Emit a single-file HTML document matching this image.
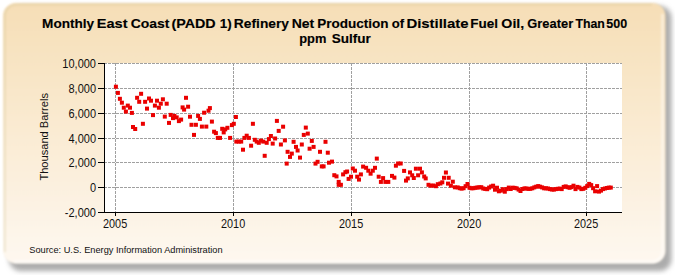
<!DOCTYPE html>
<html><head><meta charset="utf-8"><style>
html,body{margin:0;padding:0;background:#fff;}
svg{display:block;}
text{font-family:"Liberation Sans",sans-serif;}
</style></head><body>
<svg width="675" height="275" viewBox="0 0 675 275">
<defs>
<linearGradient id="bg" x1="0" y1="0" x2="0" y2="1">
<stop offset="0" stop-color="#F6DEB6"/>
<stop offset="1" stop-color="#FEF8F0"/>
</linearGradient>
<filter id="sh" x="-10%" y="-10%" width="120%" height="130%">
<feGaussianBlur stdDeviation="2.6"/>
</filter>
<filter id="soft" x="-5%" y="-5%" width="110%" height="110%">
<feGaussianBlur stdDeviation="0.9"/>
</filter>
</defs>
<rect x="9" y="6" width="662.5" height="265" rx="12" ry="12" fill="#acacac" filter="url(#sh)"/>
<rect x="3" y="3" width="662.5" height="260.5" rx="13" ry="13" fill="url(#bg)" filter="url(#soft)"/>
<path d="M4.8 252 V16 A11.2 11.2 0 0 1 16 4.8 H652" fill="none" stroke="#c9bd8c" stroke-opacity="0.35" stroke-width="1.6" filter="url(#soft)"/>
<path d="M662.5 14 V251 A10.5 10.5 0 0 1 652 261.5 H14" fill="none" stroke="#fff" stroke-opacity="0.6" stroke-width="2" filter="url(#soft)"/>
<rect x="105" y="63" width="517" height="149" fill="#fff"/>
<g stroke="#a0a0a0" stroke-width="1" stroke-dasharray="3,1" fill="none">
<line x1="104" y1="63.5" x2="622" y2="63.5"/><line x1="104" y1="88.5" x2="622" y2="88.5"/><line x1="104" y1="113.5" x2="622" y2="113.5"/><line x1="104" y1="138.5" x2="622" y2="138.5"/><line x1="104" y1="162.5" x2="622" y2="162.5"/><line x1="104" y1="187.5" x2="622" y2="187.5"/><line x1="115.5" y1="63" x2="115.5" y2="212"/><line x1="233.5" y1="63" x2="233.5" y2="212"/><line x1="351.5" y1="63" x2="351.5" y2="212"/><line x1="469.5" y1="63" x2="469.5" y2="212"/><line x1="586.5" y1="63" x2="586.5" y2="212"/>
</g>
<g fill="#ea0000">
<rect x="113.9" y="84.7" width="4" height="4"/><rect x="115.9" y="90.9" width="4" height="4"/><rect x="117.9" y="96.8" width="4" height="4"/><rect x="119.9" y="100.7" width="4" height="4"/><rect x="121.8" y="105.7" width="4" height="4"/><rect x="123.9" y="109.6" width="4" height="4"/><rect x="125.8" y="103.6" width="4" height="4"/><rect x="128.0" y="105.7" width="4" height="4"/><rect x="129.9" y="110.9" width="4" height="4"/><rect x="131.0" y="125.0" width="4" height="4"/><rect x="133.2" y="127.0" width="4" height="4"/><rect x="135.1" y="95.8" width="4" height="4"/><rect x="137.2" y="99.8" width="4" height="4"/><rect x="139.1" y="91.8" width="4" height="4"/><rect x="140.9" y="121.8" width="4" height="4"/><rect x="143.1" y="99.8" width="4" height="4"/><rect x="145.0" y="106.6" width="4" height="4"/><rect x="147.0" y="96.5" width="4" height="4"/><rect x="149.0" y="98.7" width="4" height="4"/><rect x="151.0" y="113.1" width="4" height="4"/><rect x="152.9" y="103.6" width="4" height="4"/><rect x="155.0" y="98.7" width="4" height="4"/><rect x="156.9" y="105.7" width="4" height="4"/><rect x="158.8" y="101.7" width="4" height="4"/><rect x="160.9" y="97.3" width="4" height="4"/><rect x="162.8" y="114.6" width="4" height="4"/><rect x="164.7" y="101.7" width="4" height="4"/><rect x="167.0" y="120.9" width="4" height="4"/><rect x="168.7" y="112.9" width="4" height="4"/><rect x="171.0" y="116.1" width="4" height="4"/><rect x="172.4" y="113.9" width="4" height="4"/><rect x="174.7" y="115.4" width="4" height="4"/><rect x="176.9" y="119.1" width="4" height="4"/><rect x="179.1" y="117.6" width="4" height="4"/><rect x="180.6" y="105.4" width="4" height="4"/><rect x="182.1" y="107.6" width="4" height="4"/><rect x="184.0" y="95.8" width="4" height="4"/><rect x="186.1" y="104.7" width="4" height="4"/><rect x="188.0" y="114.7" width="4" height="4"/><rect x="189.5" y="122.8" width="4" height="4"/><rect x="192.0" y="132.9" width="4" height="4"/><rect x="193.9" y="122.8" width="4" height="4"/><rect x="196.1" y="113.9" width="4" height="4"/><rect x="197.9" y="116.9" width="4" height="4"/><rect x="199.9" y="124.6" width="4" height="4"/><rect x="202.1" y="110.7" width="4" height="4"/><rect x="204.3" y="124.6" width="4" height="4"/><rect x="206.5" y="108.7" width="4" height="4"/><rect x="207.9" y="106.1" width="4" height="4"/><rect x="209.9" y="119.6" width="4" height="4"/><rect x="212.1" y="129.7" width="4" height="4"/><rect x="213.9" y="131.1" width="4" height="4"/><rect x="215.8" y="135.9" width="4" height="4"/><rect x="218.0" y="135.9" width="4" height="4"/><rect x="220.2" y="126.8" width="4" height="4"/><rect x="221.7" y="130.4" width="4" height="4"/><rect x="223.2" y="127.4" width="4" height="4"/><rect x="225.4" y="125.8" width="4" height="4"/><rect x="228.1" y="135.9" width="4" height="4"/><rect x="229.9" y="123.1" width="4" height="4"/><rect x="231.8" y="121.8" width="4" height="4"/><rect x="233.9" y="115.0" width="4" height="4"/><rect x="234.3" y="139.6" width="4" height="4"/><rect x="236.8" y="139.6" width="4" height="4"/><rect x="239.2" y="139.6" width="4" height="4"/><rect x="241.0" y="147.7" width="4" height="4"/><rect x="242.4" y="135.9" width="4" height="4"/><rect x="244.7" y="133.7" width="4" height="4"/><rect x="246.9" y="135.9" width="4" height="4"/><rect x="249.1" y="143.7" width="4" height="4"/><rect x="250.9" y="121.8" width="4" height="4"/><rect x="252.8" y="137.8" width="4" height="4"/><rect x="254.7" y="139.6" width="4" height="4"/><rect x="256.8" y="140.8" width="4" height="4"/><rect x="259.0" y="138.6" width="4" height="4"/><rect x="261.3" y="139.6" width="4" height="4"/><rect x="262.7" y="153.8" width="4" height="4"/><rect x="264.7" y="140.8" width="4" height="4"/><rect x="266.9" y="137.1" width="4" height="4"/><rect x="268.9" y="134.0" width="4" height="4"/><rect x="270.7" y="141.6" width="4" height="4"/><rect x="273.1" y="136.5" width="4" height="4"/><rect x="274.9" y="118.9" width="4" height="4"/><rect x="276.7" y="128.9" width="4" height="4"/><rect x="278.9" y="142.5" width="4" height="4"/><rect x="281.1" y="124.7" width="4" height="4"/><rect x="282.9" y="138.4" width="4" height="4"/><rect x="284.7" y="161.6" width="4" height="4"/><rect x="285.6" y="149.8" width="4" height="4"/><rect x="288.0" y="154.9" width="4" height="4"/><rect x="289.8" y="151.6" width="4" height="4"/><rect x="291.6" y="139.8" width="4" height="4"/><rect x="294.0" y="144.9" width="4" height="4"/><rect x="295.6" y="148.5" width="4" height="4"/><rect x="298.0" y="155.6" width="4" height="4"/><rect x="299.8" y="142.5" width="4" height="4"/><rect x="301.8" y="132.9" width="4" height="4"/><rect x="303.8" y="125.6" width="4" height="4"/><rect x="305.8" y="131.6" width="4" height="4"/><rect x="307.6" y="146.7" width="4" height="4"/><rect x="309.8" y="138.9" width="4" height="4"/><rect x="311.6" y="144.9" width="4" height="4"/><rect x="313.5" y="161.6" width="4" height="4"/><rect x="315.6" y="159.8" width="4" height="4"/><rect x="318.0" y="149.8" width="4" height="4"/><rect x="319.8" y="164.4" width="4" height="4"/><rect x="321.6" y="164.4" width="4" height="4"/><rect x="323.5" y="139.8" width="4" height="4"/><rect x="325.8" y="150.7" width="4" height="4"/><rect x="327.0" y="160.7" width="4" height="4"/><rect x="330.0" y="159.6" width="4" height="4"/><rect x="332.3" y="173.2" width="4" height="4"/><rect x="334.5" y="174.4" width="4" height="4"/><rect x="336.7" y="179.9" width="4" height="4"/><rect x="336.7" y="182.8" width="4" height="4"/><rect x="338.9" y="182.8" width="4" height="4"/><rect x="341.1" y="172.4" width="4" height="4"/><rect x="343.4" y="170.2" width="4" height="4"/><rect x="345.1" y="169.5" width="4" height="4"/><rect x="346.6" y="176.9" width="4" height="4"/><rect x="349.0" y="174.7" width="4" height="4"/><rect x="350.8" y="166.5" width="4" height="4"/><rect x="353.0" y="168.7" width="4" height="4"/><rect x="355.2" y="174.7" width="4" height="4"/><rect x="357.0" y="177.6" width="4" height="4"/><rect x="358.9" y="172.4" width="4" height="4"/><rect x="361.1" y="164.6" width="4" height="4"/><rect x="364.1" y="165.8" width="4" height="4"/><rect x="366.3" y="168.7" width="4" height="4"/><rect x="368.6" y="171.7" width="4" height="4"/><rect x="370.8" y="168.7" width="4" height="4"/><rect x="373.0" y="165.8" width="4" height="4"/><rect x="374.8" y="156.6" width="4" height="4"/><rect x="376.7" y="174.7" width="4" height="4"/><rect x="378.9" y="179.9" width="4" height="4"/><rect x="381.1" y="176.1" width="4" height="4"/><rect x="383.4" y="179.9" width="4" height="4"/><rect x="386.3" y="179.9" width="4" height="4"/><rect x="390.0" y="173.9" width="4" height="4"/><rect x="392.4" y="175.6" width="4" height="4"/><rect x="393.9" y="163.7" width="4" height="4"/><rect x="396.1" y="161.5" width="4" height="4"/><rect x="398.7" y="161.5" width="4" height="4"/><rect x="402.1" y="168.9" width="4" height="4"/><rect x="404.0" y="178.6" width="4" height="4"/><rect x="405.8" y="176.4" width="4" height="4"/><rect x="408.0" y="170.4" width="4" height="4"/><rect x="410.2" y="173.3" width="4" height="4"/><rect x="411.8" y="176.0" width="4" height="4"/><rect x="413.9" y="166.7" width="4" height="4"/><rect x="416.1" y="173.3" width="4" height="4"/><rect x="418.0" y="166.7" width="4" height="4"/><rect x="419.9" y="170.4" width="4" height="4"/><rect x="422.2" y="174.5" width="4" height="4"/><rect x="423.7" y="176.4" width="4" height="4"/><rect x="426.5" y="182.8" width="4" height="4"/><rect x="428.7" y="183.7" width="4" height="4"/><rect x="431.3" y="183.5" width="4" height="4"/><rect x="433.9" y="184.2" width="4" height="4"/><rect x="435.8" y="182.2" width="4" height="4"/><rect x="438.4" y="181.5" width="4" height="4"/><rect x="440.3" y="180.3" width="4" height="4"/><rect x="442.0" y="175.8" width="4" height="4"/><rect x="443.9" y="170.5" width="4" height="4"/><rect x="446.0" y="181.6" width="4" height="4"/><rect x="446.7" y="175.8" width="4" height="4"/><rect x="448.9" y="183.7" width="4" height="4"/><rect x="450.8" y="179.7" width="4" height="4"/><rect x="452.9" y="185.3" width="4" height="4"/><rect x="455.7" y="185.4" width="4" height="4"/><rect x="457.7" y="186.2" width="4" height="4"/><rect x="459.6" y="186.6" width="4" height="4"/><rect x="461.6" y="186.2" width="4" height="4"/><rect x="463.6" y="184.2" width="4" height="4"/><rect x="465.5" y="182.0" width="4" height="4"/><rect x="467.5" y="185.8" width="4" height="4"/><rect x="469.5" y="186.3" width="4" height="4"/><rect x="471.4" y="186.2" width="4" height="4"/><rect x="473.4" y="185.8" width="4" height="4"/><rect x="475.4" y="185.5" width="4" height="4"/><rect x="477.3" y="185.3" width="4" height="4"/><rect x="479.3" y="185.2" width="4" height="4"/><rect x="481.2" y="186.5" width="4" height="4"/><rect x="483.2" y="186.9" width="4" height="4"/><rect x="485.2" y="187.2" width="4" height="4"/><rect x="487.1" y="185.6" width="4" height="4"/><rect x="489.1" y="184.5" width="4" height="4"/><rect x="491.1" y="183.7" width="4" height="4"/><rect x="493.0" y="187.7" width="4" height="4"/><rect x="495.0" y="185.7" width="4" height="4"/><rect x="496.9" y="189.3" width="4" height="4"/><rect x="498.9" y="188.6" width="4" height="4"/><rect x="500.9" y="187.2" width="4" height="4"/><rect x="502.8" y="189.7" width="4" height="4"/><rect x="504.8" y="187.1" width="4" height="4"/><rect x="506.8" y="185.6" width="4" height="4"/><rect x="508.7" y="187.0" width="4" height="4"/><rect x="510.7" y="185.7" width="4" height="4"/><rect x="512.6" y="185.9" width="4" height="4"/><rect x="514.6" y="186.3" width="4" height="4"/><rect x="516.6" y="187.6" width="4" height="4"/><rect x="518.5" y="189.0" width="4" height="4"/><rect x="520.5" y="187.0" width="4" height="4"/><rect x="522.5" y="186.4" width="4" height="4"/><rect x="524.4" y="186.5" width="4" height="4"/><rect x="526.4" y="186.9" width="4" height="4"/><rect x="528.3" y="186.8" width="4" height="4"/><rect x="530.3" y="186.3" width="4" height="4"/><rect x="532.3" y="185.4" width="4" height="4"/><rect x="534.2" y="184.7" width="4" height="4"/><rect x="536.2" y="184.1" width="4" height="4"/><rect x="538.1" y="184.7" width="4" height="4"/><rect x="540.1" y="185.4" width="4" height="4"/><rect x="542.1" y="186.3" width="4" height="4"/><rect x="544.0" y="186.3" width="4" height="4"/><rect x="546.0" y="186.5" width="4" height="4"/><rect x="548.0" y="187.1" width="4" height="4"/><rect x="549.9" y="187.5" width="4" height="4"/><rect x="551.9" y="187.6" width="4" height="4"/><rect x="553.9" y="187.1" width="4" height="4"/><rect x="555.8" y="186.8" width="4" height="4"/><rect x="557.8" y="186.6" width="4" height="4"/><rect x="559.7" y="187.1" width="4" height="4"/><rect x="561.7" y="184.9" width="4" height="4"/><rect x="563.7" y="184.4" width="4" height="4"/><rect x="565.6" y="185.2" width="4" height="4"/><rect x="567.6" y="185.8" width="4" height="4"/><rect x="569.5" y="185.1" width="4" height="4"/><rect x="571.5" y="183.7" width="4" height="4"/><rect x="573.5" y="187.1" width="4" height="4"/><rect x="575.4" y="184.9" width="4" height="4"/><rect x="577.4" y="185.6" width="4" height="4"/><rect x="579.4" y="187.1" width="4" height="4"/><rect x="581.3" y="186.8" width="4" height="4"/><rect x="583.3" y="185.8" width="4" height="4"/><rect x="585.2" y="184.1" width="4" height="4"/><rect x="587.2" y="181.9" width="4" height="4"/><rect x="589.2" y="183.1" width="4" height="4"/><rect x="591.1" y="186.2" width="4" height="4"/><rect x="593.1" y="189.3" width="4" height="4"/><rect x="595.1" y="184.1" width="4" height="4"/><rect x="597.0" y="189.6" width="4" height="4"/><rect x="599.0" y="188.6" width="4" height="4"/><rect x="601.0" y="187.1" width="4" height="4"/><rect x="602.9" y="186.5" width="4" height="4"/><rect x="604.9" y="186.0" width="4" height="4"/><rect x="606.8" y="185.6" width="4" height="4"/><rect x="608.8" y="185.6" width="4" height="4"/>
</g>
<g stroke="#000" stroke-width="1" fill="none">
<line x1="104.5" y1="63" x2="104.5" y2="212.5"/>
<line x1="104" y1="212.5" x2="622" y2="212.5"/>
<line x1="98" y1="63.5" x2="105" y2="63.5"/><line x1="98" y1="88.5" x2="105" y2="88.5"/><line x1="98" y1="113.5" x2="105" y2="113.5"/><line x1="98" y1="138.5" x2="105" y2="138.5"/><line x1="98" y1="162.5" x2="105" y2="162.5"/><line x1="98" y1="187.5" x2="105" y2="187.5"/><line x1="98" y1="212.5" x2="105" y2="212.5"/><line x1="115.5" y1="212" x2="115.5" y2="216"/><line x1="233.5" y1="212" x2="233.5" y2="216"/><line x1="351.5" y1="212" x2="351.5" y2="216"/><line x1="469.5" y1="212" x2="469.5" y2="216"/><line x1="586.5" y1="212" x2="586.5" y2="216"/>
</g>
<g font-size="13.7" font-weight="bold" fill="#000" stroke="#000" stroke-width="0.15">
<text transform="translate(42.08 28) scale(0.992 1)">Monthly</text>
<text transform="translate(96.81 28) scale(1.064 1)">East</text>
<text transform="translate(130.68 28) scale(1.019 1)">Coast</text>
<text transform="translate(171.45 28) scale(1.046 1)">(PADD</text>
<text transform="translate(219.69 28) scale(0.980 1)">1)</text>
<text transform="translate(233.87 28) scale(1.006 1)">Refinery</text>
<text transform="translate(291.65 28) scale(1.023 1)">Net</text>
<text transform="translate(317.18 28) scale(0.988 1)">Production</text>
<text transform="translate(391.71 28) scale(0.955 1)">of</text>
<text transform="translate(406.39 28) scale(1.089 1)">Distillate</text>
<text transform="translate(470.19 28) scale(0.986 1)">Fuel</text>
<text transform="translate(501.36 28) scale(1.039 1)">Oil,</text>
<text transform="translate(527.32 28) scale(0.942 1)">Greater</text>
<text transform="translate(575.43 28) scale(0.900 1)">Than</text>
<text transform="translate(606.32 28) scale(0.916 1)">500</text>
<text transform="translate(299.23 42.5) scale(0.938 1)">ppm</text>
<text transform="translate(331.79 42.5) scale(0.989 1)">Sulfur</text>
</g>
<g font-size="12.5" fill="#111" text-anchor="end">
<text transform="translate(96 67.9) scale(0.88 1)">10,000</text><text transform="translate(96 92.9) scale(0.88 1)">8,000</text><text transform="translate(96 117.9) scale(0.88 1)">6,000</text><text transform="translate(96 142.9) scale(0.88 1)">4,000</text><text transform="translate(96 166.9) scale(0.88 1)">2,000</text><text transform="translate(96 191.9) scale(0.88 1)">0</text><text transform="translate(96 216.9) scale(0.88 1)">-2,000</text>
</g>
<g font-size="12.5" fill="#111" text-anchor="middle">
<text transform="translate(115.1 228) scale(0.87 1)">2005</text><text transform="translate(233.1 228) scale(0.87 1)">2010</text><text transform="translate(351.1 228) scale(0.87 1)">2015</text><text transform="translate(469.1 228) scale(0.87 1)">2020</text><text transform="translate(586.1 228) scale(0.87 1)">2025</text>
</g>
<text x="0" y="0" font-size="11.1" fill="#111" text-anchor="middle" transform="translate(47.6 136.8) rotate(-90)">Thousand Barrels</text>
<text x="29.3" y="253" font-size="9.6" fill="#111" textLength="193.3" lengthAdjust="spacingAndGlyphs">Source: U.S. Energy Information Administration</text>
</svg>
</body></html>
